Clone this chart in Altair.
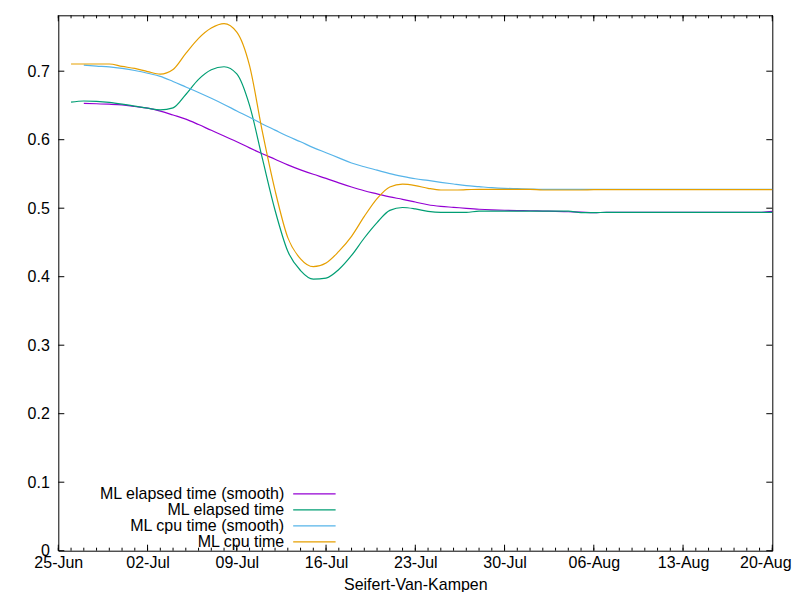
import altair as alt
import pandas as pd

series_names = ["ML elapsed time (smooth)", "ML elapsed time", "ML cpu time (smooth)", "ML cpu time"]
series_colors = ["#9400d3", "#009e73", "#56b4e9", "#e69f00"]

raw_dates = pd.date_range("2024-06-26", "2024-08-20", freq="D").strftime("%Y-%m-%d").tolist()
smooth_dates = raw_dates[1:]

cpu_time = [0.7105, 0.7105, 0.7105, 0.7105, 0.707, 0.704, 0.6995, 0.6958, 0.7025, 0.726,
            0.748, 0.763, 0.7695, 0.757, 0.708, 0.612, 0.526, 0.457, 0.426, 0.4146,
            0.420, 0.437, 0.459, 0.488, 0.514, 0.531, 0.535, 0.533, 0.529, 0.5266,
            0.5266, 0.527, 0.5276, 0.5276, 0.5276, 0.5276, 0.5276, 0.5266, 0.5266, 0.5266,
            0.5266, 0.527, 0.527, 0.527, 0.527, 0.527, 0.527, 0.527, 0.527, 0.527,
            0.527, 0.527, 0.527, 0.527, 0.527, 0.527]
elapsed_time = [0.6548, 0.6565, 0.656, 0.6545, 0.652, 0.649, 0.646, 0.6435, 0.6465, 0.666,
                0.688, 0.702, 0.7065, 0.696, 0.650, 0.573, 0.497, 0.437, 0.409, 0.3965,
                0.398, 0.4105, 0.431, 0.4565, 0.479, 0.4968, 0.501, 0.499, 0.4955, 0.494,
                0.494, 0.494, 0.4957, 0.4957, 0.4957, 0.4957, 0.4957, 0.4957, 0.4957, 0.4957,
                0.4935, 0.4935, 0.494, 0.494, 0.494, 0.494, 0.494, 0.494, 0.494, 0.494,
                0.494, 0.494, 0.494, 0.494, 0.494, 0.494]
cpu_smooth = [0.709, 0.7075, 0.7062, 0.704, 0.701, 0.697, 0.6925, 0.685, 0.677, 0.669,
              0.6605, 0.6515, 0.642, 0.6327, 0.623, 0.614, 0.605, 0.597, 0.5885, 0.581,
              0.5735, 0.566, 0.5605, 0.5555, 0.5505, 0.5465, 0.543, 0.5405, 0.5378, 0.5353,
              0.533, 0.5315, 0.530, 0.529, 0.5285, 0.528, 0.5276, 0.5276, 0.5276, 0.5276,
              0.5276, 0.5276, 0.5276, 0.5276, 0.5276, 0.5276, 0.5276, 0.5276, 0.5276, 0.5276,
              0.5276, 0.5276, 0.5276, 0.5276, 0.5276]
elapsed_smooth = [0.653, 0.6525, 0.6518, 0.6507, 0.6485, 0.646, 0.6418, 0.636, 0.630, 0.6221,
                  0.6137, 0.6055, 0.597, 0.588, 0.5795, 0.5715, 0.5633, 0.556, 0.5495, 0.5435,
                  0.537, 0.531, 0.5255, 0.521, 0.5165, 0.513, 0.509, 0.505, 0.5027, 0.5013,
                  0.4998, 0.4985, 0.4976, 0.497, 0.4966, 0.4963, 0.4958, 0.4954, 0.4948, 0.4942,
                  0.4934, 0.494, 0.494, 0.494, 0.494, 0.494, 0.494, 0.494, 0.494, 0.494,
                  0.494, 0.494, 0.494, 0.494, 0.4955]

x_tick_dates = ["2024-06-25", "2024-07-02", "2024-07-09", "2024-07-16", "2024-07-23",
                "2024-07-30", "2024-08-06", "2024-08-13", "2024-08-20"]
x_minor_dates = pd.date_range("2024-06-25", "2024-08-20", freq="D").strftime("%Y-%m-%d").tolist()
y_ticks = [0, 0.1, 0.2, 0.3, 0.4, 0.5, 0.6, 0.7]
y_max = 0.7816

W, H = 714, 535.4

rows = []
for name, dates, vals in [
    (series_names[0], smooth_dates, elapsed_smooth),
    (series_names[1], raw_dates, elapsed_time),
    (series_names[2], smooth_dates, cpu_smooth),
    (series_names[3], raw_dates, cpu_time),
]:
    for d, v in zip(dates, vals):
        rows.append({"date": d, "value": v, "series": name})
df = pd.DataFrame(rows)


def dt(s):
    y, m, d = map(int, s.split("-"))
    return alt.DateTime(year=y, month=m, date=d, utc=True)


xscale = alt.Scale(type="utc", domain=[dt(x_tick_dates[0]), dt(x_tick_dates[-1])])
yscale = alt.Scale(domain=[0, y_max], nice=False, zero=False)

xaxis = alt.Axis(values=[dt(s) for s in x_tick_dates],
                 labelExpr="utcFormat(datum.value, '%d-%b')",
                 title="Seifert-Van-Kampen", labelPadding=4, titlePadding=5.5,
                 labelFlush=False, labelOverlap=False,
                 labelOffset={"expr": "datum.value > utc(2024, 7, 19) ? -7 : 0"})
yaxis = alt.Axis(values=y_ticks,
                 labelExpr="datum.value == 0 ? '0' : format(datum.value, '.1f')",
                 title=None, labelPadding=9)

legend_opts = dict(title=None, orient="none", legendX=248.1, legendY=470.6,
                   labelAlign="right", labelOffset={"expr": "-38.2"},
                   symbolType="M-3,0H3", symbolSize=200,
                   symbolStrokeWidth=1.2, labelFontSize=16,
                   labelFont="Liberation Sans", labelColor="black",
                   padding=0, labelLimit=400)
try:
    legend = alt.Legend(rowPadding=-1, **legend_opts)
except Exception:
    legend = alt.Legend(rowPadding=0, **legend_opts)

lines = alt.Chart(df).mark_line(interpolate="monotone", strokeWidth=1.2, clip=True).encode(
    x=alt.X("date:T", scale=xscale, axis=xaxis),
    y=alt.Y("value:Q", scale=yscale, axis=yaxis),
    color=alt.Color("series:N",
                    scale=alt.Scale(domain=series_names, range=series_colors),
                    legend=legend),
)

major_df = pd.DataFrame({"date": x_tick_dates})
minor_df = pd.DataFrame({"date": x_minor_dates})
ytick_df = pd.DataFrame({"value": y_ticks})

def xticks(data, y0, y1):
    return alt.Chart(data).mark_rule(color="black", strokeWidth=1).encode(
        x=alt.X("date:T", scale=xscale, axis=xaxis),
        y=alt.value(y0), y2=alt.value(y1))

def yticks(x0, x1):
    return alt.Chart(ytick_df).mark_rule(color="black", strokeWidth=1).encode(
        y=alt.Y("value:Q", scale=yscale, axis=yaxis),
        x=alt.value(x0), x2=alt.value(x1))

chart = alt.layer(
    lines,
    xticks(minor_df, H, H - 3), xticks(minor_df, 0, 3),
    xticks(major_df, H, H - 6), xticks(major_df, 0, 6),
    yticks(0, 6), yticks(W, W - 6),
).properties(
    width=W, height=H,
    autosize=alt.AutoSizeParams(type="none"),
    padding={"left": 50.3, "top": 7.3, "right": 19.5, "bottom": 41.3},
).configure_view(
    stroke="black", strokeWidth=1
).configure_axis(
    grid=False, domain=False, ticks=False,
    labelFont="Liberation Sans", labelFontSize=16, labelColor="black",
    titleFont="Liberation Sans", titleFontSize=16, titleColor="black", titleFontWeight="normal",
)

chart.save("out.html", embed_options={"renderer": "svg", "actions": False})
